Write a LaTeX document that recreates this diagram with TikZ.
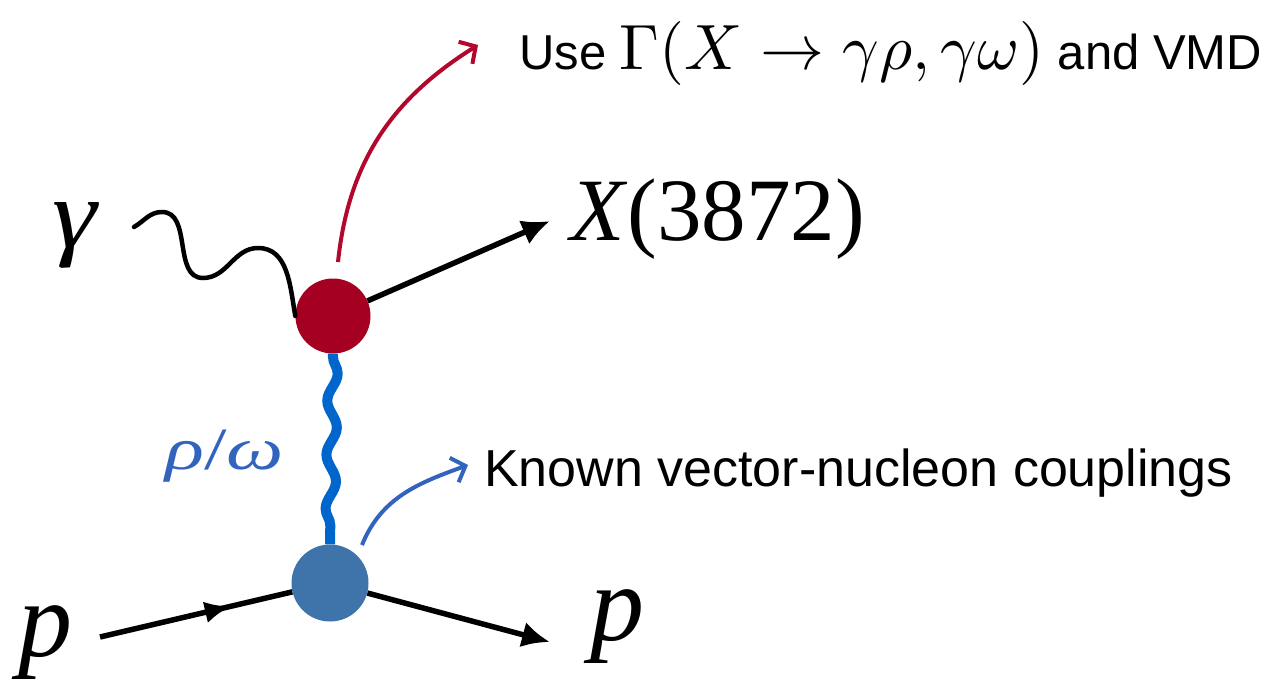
\documentclass[tikz,border=0pt]{standalone}
\usepackage{fontspec}
\setmainfont{Liberation Serif}
\newfontfamily\sansf{Liberation Sans}
\usetikzlibrary{arrows.meta,decorations.pathmorphing,decorations.markings}
\definecolor{vred}{RGB}{165,0,33}
\definecolor{vblue}{RGB}{62,116,170}
\definecolor{wblue}{RGB}{0,102,204}
\definecolor{ablue}{RGB}{50,100,190}
\definecolor{ared}{RGB}{178,8,45}
\tikzset{
  vertex/.style={circle, draw=none, inner sep=0pt},
  fline/.style={line width=5.5pt, black},
  bigtip/.style={-{Latex[length=28pt,width=26pt]}},
  photon/.style={line width=4.5pt, black, line cap=round},
  vwave/.style={line width=10pt, wblue, decorate,
    decoration={snake, amplitude=5pt, segment length=54pt, pre length=3pt, post length=3pt}},
  noteArrow/.style={line width=4pt, -{Straight Barb[length=12pt,width=26pt]}},
  lab/.style={anchor=base west, inner sep=0pt},
  midarrow/.style={postaction={decorate},
    decoration={markings, mark=at position 0.68 with {\arrow{Latex[length=26pt,width=22pt]}}}}
}
\begin{document}
\begin{tikzpicture}[x=1pt,y=1pt]
\useasboundingbox (0,0) rectangle (1276,-678);
% vertices
\node[vertex, fill=vred, minimum size=75pt] (top) at (333,-316) {};
\node[vertex, fill=vblue, minimum size=77pt] (bot) at (330,-583) {};
% free ends
\coordinate (gstart) at (134,-227);
\coordinate (Xend) at (550,-221);
\coordinate (pin) at (100,-637);
\coordinate (pout) at (550,-642);
\coordinate (redstart) at (338,-262);
\coordinate (redend) at (478,-45);
\coordinate (bluestart) at (362,-545);
\coordinate (blueend) at (468,-465);
% photon
\draw[photon] (gstart) to[out=30,in=180] (162,-212) to[out=0,in=180] (203,-278)
  to[out=0,in=180] (258,-248) to[out=0,in=100] (top.west);
% vector meson exchange
\draw[vwave] (top.south) -- (bot.north);
% X(3872)
\draw[fline, bigtip] (top) -- (Xend);
% protons
\draw[fline, midarrow] (pin) -- (bot);
\draw[fline, bigtip] (bot) -- (pout);
% note arrows
\draw[noteArrow, ared] (redstart) to[out=84,in=212] (redend);
\draw[noteArrow, ablue] (bluestart) to[out=68,in=200] (blueend);
% labels
\node[lab] (use) at (519,-69) {\sansf\fontsize{49}{60}\selectfont Use \scalebox{6.4}{\normalsize$\Gamma(X\rightarrow\gamma\rho,\gamma\omega)$}\ and VMD};
\node[lab] (known) at (484,-486) {\sansf\fontsize{52}{60}\selectfont Known vector-nucleon couplings};
\node[lab] (xlab) at (570,-240) {\fontsize{89}{90}\selectfont\textit{X}(3872)};
\node[lab] (glab) at (52,-247) {\scalebox{1.15}[1]{\fontsize{98}{100}\selectfont\textit{γ}}};
\node[lab] (plab1) at (18,-656) {\fontsize{108}{110}\selectfont\textit{p}};
\node[lab] (plab2) at (590,-640) {\fontsize{108}{110}\selectfont\textit{p}};
\node[lab, text=ablue] (rholab) at (165,-469) {\scalebox{1.35}[1]{\fontsize{60}{66}\selectfont\textit{ρ}/\textit{ω}}};
\end{tikzpicture}
\end{document}
